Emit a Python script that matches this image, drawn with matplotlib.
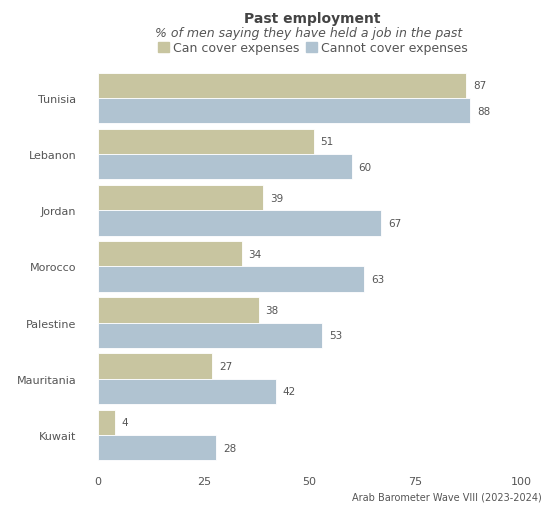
import matplotlib.pyplot as plt
import numpy as np
from matplotlib.patches import Patch

plt.rcParams['font.family'] = ['DejaVu Sans']

countries = ['Tunisia', 'Lebanon', 'Jordan', 'Morocco', 'Palestine', 'Mauritania', 'Kuwait']
can_cover = [87, 51, 39, 34, 38, 27, 4]
cannot_cover = [88, 60, 67, 63, 53, 42, 28]

c_can = '#c8c5a0'
c_cannot = '#b0c3d1'
txt = '#555555'

fig = plt.figure(figsize=(5.43, 5.06), dpi=100)
ax = fig.add_axes([0.1805, 0.083, 0.779, 0.777])

y = np.arange(len(countries))
h = 0.45
ax.barh(y - h / 2, can_cover, height=h, color=c_can, edgecolor='white', linewidth=0.6)
ax.barh(y + h / 2, cannot_cover, height=h, color=c_cannot, edgecolor='white', linewidth=0.6)

for yi, a, b in zip(y, can_cover, cannot_cover):
    ax.text(a + 1.6, yi - h / 2, str(a), va='center', ha='left', fontsize=7.5, color=txt)
    ax.text(b + 1.6, yi + h / 2, str(b), va='center', ha='left', fontsize=7.5, color=txt)

ax.set_ylim(len(countries) - 0.5, -0.5)
ax.set_xlim(0, 100)
ax.set_yticks(y)
ax.set_yticklabels(countries)
ax.set_xticks([0, 25, 50, 75, 100])
ax.tick_params(axis='both', length=0, labelsize=8, colors=txt, pad=15.5)
ax.tick_params(axis='x', pad=9)
for s in ax.spines.values():
    s.set_visible(False)

fig.text(0.575, 0.962, 'Past employment', ha='center', va='center', fontsize=10,
         fontweight='bold', color='#444444')
fig.text(0.569, 0.934, '% of men saying they have held a job in the past', ha='center',
         va='center', fontsize=9, style='italic', color=txt)
handles = [Patch(color=c_can, label='Can cover expenses'),
           Patch(color=c_cannot, label='Cannot cover expenses')]
fig.legend(handles=handles, loc='center', bbox_to_anchor=(0.576, 0.904), ncol=2,
           frameon=False, fontsize=9, handlelength=0.9, handleheight=0.9,
           handletextpad=0.3, columnspacing=0.5, labelcolor=txt, borderaxespad=0)

fig.text(0.998, 0.016, 'Arab Barometer Wave VIII (2023-2024)', ha='right', va='center',
         fontsize=7, color=txt)

fig.savefig('out.png', dpi=100)
